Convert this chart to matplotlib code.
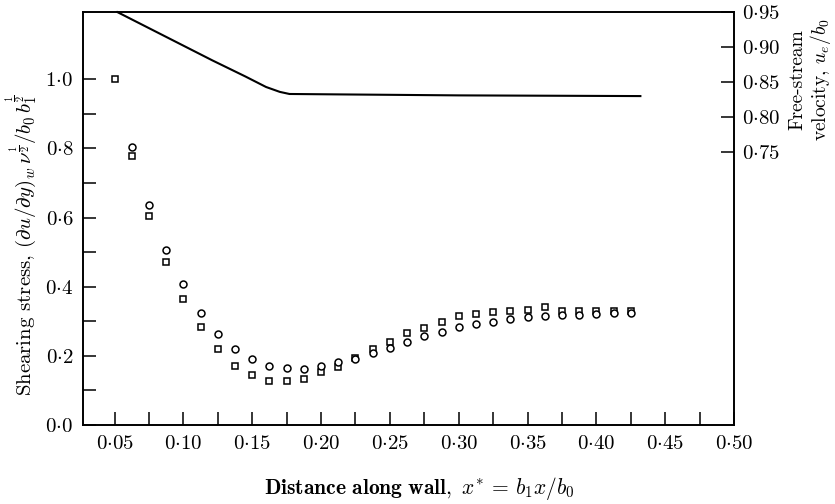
import numpy as np
import matplotlib
matplotlib.use("Agg")
import matplotlib.pyplot as plt
from matplotlib.ticker import FixedLocator

plt.rcParams["mathtext.fontset"] = "cm"
plt.rcParams["font.family"] = ["cmr10", "DejaVu Serif"]
plt.rcParams["axes.formatter.use_mathtext"] = True

# ---------- data ----------
x_pos = [0.05, 0.0625, 0.075, 0.0875, 0.1, 0.1125, 0.125, 0.1375, 0.15, 0.1625,
         0.175, 0.1875, 0.2, 0.2125, 0.225, 0.2375, 0.25, 0.2625, 0.275, 0.2875,
         0.3, 0.3125, 0.325, 0.3375, 0.35, 0.3625, 0.375, 0.3875, 0.4, 0.4125, 0.425]
stress_sq = [1.0, 0.777, 0.604, 0.472, 0.364, 0.284, 0.220, 0.171, 0.145, 0.127,
             0.128, 0.132, 0.152, 0.169, 0.195, 0.219, 0.240, 0.265, 0.281, 0.297,
             0.315, 0.320, 0.327, 0.329, 0.332, 0.340, 0.329, 0.330, 0.330, 0.329, 0.329]
stress_circ = [np.nan, 0.803, 0.635, 0.505, 0.407, 0.324, 0.263, 0.219, 0.191, 0.171,
               0.164, 0.163, 0.171, 0.183, 0.192, 0.209, 0.224, 0.241, 0.258, 0.268,
               0.284, 0.292, 0.299, 0.308, 0.311, 0.315, 0.318, 0.318, 0.320, 0.323, 0.325]

x_vel = [0.052, 0.085, 0.121, 0.145, 0.16, 0.17, 0.177, 0.213, 0.30, 0.432]
u_e = [0.95, 0.917, 0.881, 0.858, 0.843, 0.836, 0.833, 0.8324, 0.831, 0.830]

x_major = [0.05, 0.10, 0.15, 0.20, 0.25, 0.30, 0.35, 0.40, 0.45, 0.50]
x_minor = [0.075, 0.125, 0.175, 0.225, 0.275, 0.325, 0.375, 0.425, 0.475]
y_major = [0.0, 0.2, 0.4, 0.6, 0.8, 1.0]
y_minor = [0.1, 0.3, 0.5, 0.7, 0.9]
vel_ticks = [0.75, 0.80, 0.85, 0.90, 0.95]


def dot_label(v, nd):
    s = f"{v:.{nd}f}"
    a, b = s.split(".")
    return f"${a}{{\\cdot}}{b}$"


fig = plt.figure(figsize=(8.35, 5.04), dpi=100)
ax = fig.add_axes([0.0994, 0.1567, 0.7796, 0.8193])

ax.plot(x_pos, stress_sq, ls="none", marker="s", ms=5, mfc="white", mec="black", mew=1.1)
ax.plot(x_pos, stress_circ, ls="none", marker="o", ms=5, mfc="white", mec="black", mew=1.1)

ax.set_xlim(0.027, 0.50)
ax.set_ylim(0.0, 1.194)

ax.xaxis.set_major_locator(FixedLocator(x_major))
ax.xaxis.set_minor_locator(FixedLocator(x_minor))
ax.set_xticklabels([dot_label(v, 2) for v in x_major])
ax.yaxis.set_major_locator(FixedLocator(y_major))
ax.yaxis.set_minor_locator(FixedLocator(y_minor))
ax.set_yticklabels([dot_label(v, 1) for v in y_major])

for a in ("x", "y"):
    ax.tick_params(axis=a, which="both", direction="in", length=9.5, width=1.1)
ax.tick_params(axis="both", which="major", labelsize=15, pad=7)
ax.tick_params(axis="y", which="both", right=False)
for sp in ax.spines.values():
    sp.set_linewidth(1.2)

# ---------- free-stream velocity on the right axis ----------
ax2 = ax.twinx()
ax2.plot(x_vel, u_e, color="black", lw=1.5, clip_on=False)
ax2.set_ylim(0.36, 0.95)
ax2.yaxis.set_major_locator(FixedLocator(vel_ticks))
ax2.set_yticklabels([dot_label(v, 2) for v in vel_ticks])
ax2.tick_params(axis="y", direction="in", length=9.5, width=1.1, labelsize=15, pad=6)
for sp in ax2.spines.values():
    sp.set_linewidth(1.2)

fig.text(22 / 835, 1 - 245 / 504,
         r"Shearing stress, $(\partial u/\partial y)_w\,\nu^{\frac{1}{2}}/b_0\,b_1^{\frac{1}{2}}$",
         rotation=90, ha="center", va="center", fontsize=15)
fig.text(419 / 835, 1 - 488 / 504,
         r"$\mathbf{Distance\ along\ wall,}\ x^{*}\,=\,b_1x/b_0$",
         ha="center", va="center", fontsize=15.5)
fig.text(811 / 835, 1 - 80 / 504, "Free-stream\nvelocity, $u_e/b_0$",
         rotation=90, ha="center", va="center", fontsize=14, linespacing=1.1)

fig.savefig("out.png", dpi=100)
